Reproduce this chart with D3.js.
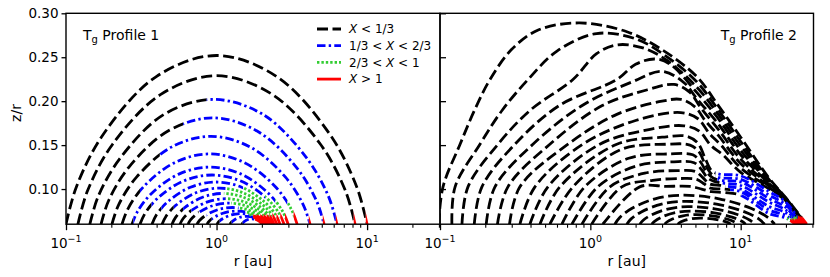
<!DOCTYPE html>
<html>
<head>
<meta charset="utf-8">
<script src="https://cdn.jsdelivr.net/npm/d3@7/dist/d3.min.js"></script>
<style>
  body { margin: 0; background: #fff; }
  svg { display: block; font-family: "DejaVu Sans", sans-serif; }
</style>
</head>
<body>
<svg id="chart" width="830" height="277"></svg>
<script>
// ---- data ----
const xMajorTicks = [0.1, 1, 10];
const xMajorExponents = ["\u22121", "0", "1"];
const xMinorTicks = [0.2, 0.3, 0.4, 0.5, 0.6, 0.7, 0.8, 0.9, 2, 3, 4, 5, 6, 7, 8, 9, 20, 30];
const yTicks = [0.10, 0.15, 0.20, 0.25, 0.30];
const legendLabels = ["X < 1/3", "1/3 < X < 2/3", "2/3 < X < 1", "X > 1"];
const panelTitles = ["Profile 1", "Profile 2"];

// Profile 1: one array of [r, z/r] points per curve
const profile1Curves = [
  [[0.1,0.06],[0.1175,0.103],[0.178,0.163],[0.398,0.228],[1,0.252],[2.51,0.228],[5.62,0.163],[8.51,0.103],[10,0.06]],
  [[0.12,0.06],[0.139,0.098],[0.204,0.151],[0.429,0.208],[1,0.229],[2.33,0.208],[4.9,0.151],[7.18,0.098],[8.32,0.06]],
  [[0.144,0.06],[0.164,0.092],[0.231,0.136],[0.448,0.185],[0.955,0.202],[2.03,0.185],[3.94,0.136],[5.53,0.092],[6.31,0.06]],
  [[0.171,0.06],[0.192,0.087],[0.262,0.125],[0.476,0.166],[0.941,0.181],[1.86,0.166],[3.38,0.125],[4.6,0.087],[5.18,0.06]],
  [[0.202,0.06],[0.224,0.0823],[0.295,0.1138],[0.501,0.1477],[0.918,0.16],[1.68,0.1477],[2.86,0.1138],[3.76,0.0823],[4.18,0.06]],
  [[0.2355,0.06],[0.2585,0.0778],[0.329,0.103],[0.526,0.13],[0.898,0.14],[1.535,0.13],[2.45,0.103],[3.12,0.0778],[3.43,0.06]],
  [[0.2745,0.06],[0.2985,0.0745],[0.37,0.095],[0.562,0.117],[0.906,0.125],[1.459,0.117],[2.215,0.095],[2.75,0.0745],[2.99,0.06]],
  [[0.31,0.06],[0.3355,0.0725],[0.409,0.0901],[0.602,0.1091],[0.934,0.116],[1.45,0.1091],[2.135,0.0901],[2.6,0.0725],[2.81,0.06]],
  [[0.3725,0.06],[0.399,0.0707],[0.476,0.0858],[0.671,0.1021],[0.992,0.108],[1.467,0.1021],[2.068,0.0858],[2.47,0.0707],[2.64,0.06]],
  [[0.4345,0.06],[0.462,0.0691],[0.5415,0.0821],[0.736,0.096],[1.047,0.101],[1.489,0.096],[2.025,0.0821],[2.37,0.0691],[2.52,0.06]],
  [[0.506,0.06],[0.5345,0.0678],[0.615,0.0788],[0.808,0.0907],[1.104,0.095],[1.509,0.0907],[1.98,0.0788],[2.28,0.0678],[2.41,0.06]],
  [[0.5715,0.06],[0.6,0.0665],[0.6815,0.0756],[0.872,0.0854],[1.156,0.089],[1.532,0.0854],[1.961,0.0756],[2.227,0.0665],[2.34,0.06]],
  [[0.647,0.06],[0.676,0.0654],[0.757,0.0729],[0.942,0.081],[1.211,0.084],[1.556,0.081],[1.936,0.0729],[2.168,0.0654],[2.265,0.06]],
  [[0.741,0.06],[0.77,0.0642],[0.849,0.0702],[1.027,0.0767],[1.276,0.079],[1.586,0.0767],[1.919,0.0702],[2.116,0.0642],[2.198,0.06]],
  [[0.865,0.06],[0.893,0.0633],[0.969,0.0681],[1.138,0.0732],[1.365,0.075],[1.637,0.0732],[1.921,0.0681],[2.084,0.0633],[2.153,0.06]],
  [[1.007,0.06],[1.033,0.0627],[1.104,0.0665],[1.255,0.0705],[1.454,0.072],[1.684,0.0705],[1.915,0.0665],[2.046,0.0627],[2.099,0.06]],
  [[1.23,0.06],[1.252,0.062],[1.311,0.0648],[1.434,0.0679],[1.589,0.069],[1.76,0.0679],[1.924,0.0648],[2.015,0.062],[2.051,0.06]],
  [[1.476,0.06],[1.491,0.0613],[1.532,0.0632],[1.617,0.0653],[1.718,0.066],[1.826,0.0653],[1.925,0.0632],[1.978,0.0613],[2.0,0.06]]
];
// r where each curve passes from X<1/3 -> 1/3..2/3 -> 2/3..1 -> X>1
const profile1Breaks = [
  [9.8,9.8,9.8],[8.15,8.15,8.15],[0.86,6.2,6.2],[0.6,5.08,5.08],[0.42,4.1,4.1],[0.31,2.95,3.25],
  [0.28,2.45,2.85],[0.37,2.1,2.65],[0.43,1.5,2.5],[0.52,1.15,2.35],[0.6,1.12,2.25],[0.68,1.15,2.15],
  [0.76,1.25,2.05],[0.86,1.4,1.95],[0.93,1.55,1.85],[1.05,1.65,1.75],[1.26,1.75,1.75],[1.49,1.8,1.8]
];

// Profile 2
const profile2Curves = [
  [[0.098,0.06],[0.1047,0.1025],[0.136,0.151],[0.17,0.19],[0.215,0.2246],[0.3,0.259],[0.45,0.281],[0.85,0.289],[1.75,0.279],[3.0,0.2585],[5.1,0.228],[7.1,0.195],[10,0.159],[15.5,0.112],[20,0.09],[27.5,0.06]],
  [[0.12,0.06],[0.126,0.1025],[0.1845,0.151],[0.26,0.19],[0.385,0.2246],[0.6,0.257],[1.1,0.277],[2.0,0.271],[3.2,0.251],[5.1,0.222],[7.1,0.19],[10,0.154],[15.5,0.1105],[20,0.0895],[27,0.06]],
  [[0.14,0.06],[0.1535,0.1025],[0.243,0.151],[0.4,0.19],[0.766,0.2246],[1.1,0.254],[1.5,0.264],[2.2,0.261],[3.2,0.247],[5.1,0.216],[7.1,0.185],[10,0.149],[15.5,0.109],[20,0.089],[26.8,0.06]],
  [[0.169,0.06],[0.19,0.1025],[0.315,0.151],[0.62,0.195],[1.5,0.2246],[2.0,0.242],[2.7,0.248],[3.4,0.242],[5.1,0.21],[7.1,0.18],[10,0.144],[15.5,0.1075],[20,0.0885],[26.5,0.06]],
  [[0.203,0.06],[0.232,0.1025],[0.415,0.151],[0.9,0.196],[1.9,0.222],[3.0,0.234],[4.2,0.221],[5.1,0.203],[7.1,0.174],[10,0.139],[15.5,0.106],[20,0.088],[26.3,0.06]],
  [[0.241,0.06],[0.283,0.1025],[0.538,0.151],[1.2,0.195],[2.4,0.213],[3.6,0.219],[4.6,0.21],[5.4,0.193],[7.1,0.168],[10,0.134],[15.5,0.1045],[20,0.0875],[26,0.06]],
  [[0.29,0.06],[0.34,0.1025],[0.71,0.151],[1.5,0.185],[3.0,0.2],[4.0,0.202],[5.0,0.193],[5.8,0.178],[7.1,0.161],[10,0.129],[15.5,0.103],[20,0.087],[25.8,0.06]],
  [[0.34,0.06],[0.428,0.1025],[0.891,0.151],[2.0,0.178],[4.0,0.187],[5.2,0.18],[6.2,0.163],[7.4,0.15],[10,0.124],[15.5,0.1015],[20,0.0865],[25.6,0.06]],
  [[0.396,0.06],[0.522,0.1025],[1.156,0.151],[2.5,0.168],[4.2,0.172],[5.3,0.166],[6.3,0.15],[7.6,0.139],[10,0.119],[15.5,0.1],[20,0.086],[25.4,0.06]],
  [[0.462,0.06],[0.627,0.1025],[1.5,0.151],[3.0,0.159],[4.4,0.16],[5.2,0.152],[5.8,0.135],[6.4,0.121],[7.2,0.117],[10,0.115],[15.5,0.097],[20,0.085],[25.6,0.06]],
  [[0.538,0.06],[0.766,0.1025],[1.6,0.145],[3.2,0.151],[4.6,0.15],[5.3,0.142],[5.8,0.128],[6.4,0.117],[7.2,0.113],[10,0.111],[15.5,0.093],[20,0.082],[25.2,0.06]],
  [[0.647,0.06],[0.918,0.1025],[1.8,0.135],[3.4,0.14],[4.8,0.139],[5.4,0.131],[5.9,0.12],[6.5,0.113],[7.3,0.11],[10,0.108],[15.5,0.089],[20,0.079],[24.8,0.06]],
  [[0.754,0.06],[1.12,0.1025],[2.0,0.126],[3.6,0.131],[4.9,0.13],[5.5,0.122],[6.0,0.113],[6.6,0.109],[7.4,0.107],[10,0.104],[15.5,0.085],[20,0.076],[24.4,0.06]],
  [[0.879,0.06],[1.35,0.1025],[2.3,0.118],[3.8,0.121],[5.0,0.12],[5.6,0.113],[6.2,0.106],[7.5,0.104],[10,0.1],[15.5,0.08],[20,0.073],[24,0.06]],
  [[1.02,0.06],[1.62,0.1025],[2.6,0.11],[4.0,0.112],[5.1,0.111],[5.7,0.106],[6.3,0.101],[7.6,0.1],[10,0.097],[15.5,0.076],[20,0.07],[23.5,0.06]],
  [[1.21,0.06],[2.13,0.1025],[3.2,0.103],[4.6,0.103],[5.5,0.1],[6.4,0.097],[7.8,0.096],[10,0.093],[15.5,0.072],[20,0.067],[23,0.06]],
  [[1.455,0.06],[1.564,0.0674],[1.882,0.0778],[2.697,0.0889],[4.069,0.093],[7.18,0.0889],[11.8,0.0778],[15.23,0.0674],[16.83,0.06]],
  [[1.748,0.06],[1.86,0.0658],[2.182,0.074],[2.974,0.0828],[4.241,0.086],[6.918,0.0828],[10.62,0.074],[13.24,0.0658],[14.42,0.06]],
  [[2.133,0.06],[2.247,0.0645],[2.567,0.0708],[3.323,0.0775],[4.466,0.08],[6.716,0.0775],[9.598,0.0708],[11.53,0.0645],[12.39,0.06]],
  [[2.563,0.06],[2.673,0.0633],[2.981,0.0681],[3.68,0.0732],[4.687,0.075],[6.542,0.0732],[8.76,0.0681],[10.18,0.0633],[10.79,0.06]],
  [[3.126,0.06],[3.231,0.0625],[3.515,0.0659],[4.142,0.0696],[4.996,0.071],[6.474,0.0696],[8.124,0.0659],[9.126,0.0625],[9.55,0.06]],
  [[3.815,0.06],[3.907,0.0616],[4.154,0.0638],[4.68,0.0661],[5.362,0.067],[6.471,0.0661],[7.63,0.0638],[8.305,0.0616],[8.583,0.06]]
];
const profile2Breaks = [
  [25.8,25.8,25.8],[25.4,25.4,25.4],[25.2,25.2,25.2],[25,25,25],[24.8,24.8,24.8],[24.6,24.6,24.6],
  [24.4,24.4,24.4],[24.2,24.2,24.2],[24,24,24],
  [6.8,24,24.6],[6.8,23.5,24.2],[7.0,23,23.8],[7.4,22.5,23.3],[7.9,21.8,22.8],[8.5,21,22],[10,20.3,21.3],
  [1000,1000,1000],[1000,1000,1000],[1000,1000,1000],[1000,1000,1000],[1000,1000,1000],[1000,1000,1000]
];

// ---- layout & styles ----
const W = 830, H = 277;
const plotTop = 13.3, plotBottom = 224.2;
const lineWidth = 2.8;
const catStyles = [
  { color: "#000000", dash: "11,4.5" },
  { color: "#0000ff", dash: "8.5,3.2,2.4,3.2" },
  { color: "#32cd32", dash: "2.4,2" },
  { color: "#ff0000", dash: null }
];
const panels = [
  { x0: 66, x1: 440, curves: profile1Curves, breaks: profile1Breaks, titleX: 83, anchor: "start" },
  { x0: 440, x1: 813.5, curves: profile2Curves, breaks: profile2Breaks, titleX: 797, anchor: "end" }
];

const svg = d3.select("#chart");
svg.append("rect").attr("width", W).attr("height", H).attr("fill", "#fff");
const defs = svg.append("defs");

const y = d3.scaleLinear().domain([0.06, 0.30]).range([plotBottom, plotTop]);

panels.forEach((p, i) => {
    const x = d3.scaleLog().domain([0.1, 30.5]).range([p.x0, p.x1]);
    const clipId = "panel-clip-" + i;
    defs.append("clipPath").attr("id", clipId)
        .append("rect")
        .attr("x", p.x0).attr("y", plotTop)
        .attr("width", p.x1 - p.x0).attr("height", plotBottom - plotTop);

    const g = svg.append("g").attr("clip-path", `url(#${clipId})`);
    const line = d3.line()
        .x(d => x(d[0]))
        .y(d => y(d[1]))
        .curve(d3.curveCatmullRom.alpha(0.5));

    // draw by category so red sits on top, like the original
    catStyles.forEach((st, c) => {
        p.curves.forEach((pts, k) => {
            const br = p.breaks[k];
            const lo = c === 0 ? 0.01 : br[c - 1];
            const hi = c === 3 ? 1000 : br[c];
            if (hi <= lo) return;
            const sx0 = Math.max(p.x0 - 5, x(lo));
            const sx1 = Math.min(p.x1 + 5, x(hi));
            if (sx1 <= sx0) return;
            const segId = `seg-${i}-${k}-${c}`;
            defs.append("clipPath").attr("id", segId)
                .append("rect")
                .attr("x", sx0).attr("y", 0)
                .attr("width", sx1 - sx0).attr("height", H);
            g.append("path")
                .attr("d", line(pts))
                .attr("clip-path", `url(#${segId})`)
                .attr("fill", "none")
                .attr("stroke", st.color)
                .attr("stroke-width", lineWidth)
                .attr("stroke-dasharray", st.dash)
                .attr("stroke-linecap", "butt");
        });
    });

    // x axis: minor then major ticks
    svg.append("g")
        .attr("transform", `translate(0,${plotBottom})`)
        .call(d3.axisBottom(x).tickValues(xMinorTicks).tickSize(3.5).tickFormat(""))
        .call(a => a.select(".domain").remove())
        .call(a => a.selectAll("line").attr("stroke-width", 1.1));
    svg.append("g")
        .attr("transform", `translate(0,${plotBottom})`)
        .call(d3.axisBottom(x).tickValues(xMajorTicks).tickSize(6).tickFormat(""))
        .call(a => a.select(".domain").remove())
        .call(a => a.selectAll("line").attr("stroke-width", 1.3));

    xMajorTicks.forEach((v, j) => {
        const t = svg.append("text")
            .attr("x", x(v)).attr("y", 248)
            .attr("text-anchor", "middle")
            .attr("font-size", "13.5px")
            .attr("fill", "#000");
        t.append("tspan").text("10");
        t.append("tspan").attr("dy", -6.5).attr("font-size", "9.5px").text(xMajorExponents[j]);
    });

    svg.append("text")
        .attr("x", (p.x0 + p.x1) / 2).attr("y", 265.5)
        .attr("text-anchor", "middle")
        .attr("font-size", "14px")
        .text("r [au]");

    // y ticks
    if (i === 0) {
        svg.append("g")
            .attr("transform", `translate(${p.x0},0)`)
            .call(d3.axisLeft(y).tickValues(yTicks).tickSize(4.5).tickPadding(3).tickFormat(d3.format(".2f")))
            .call(a => a.select(".domain").remove())
            .call(a => a.selectAll("line").attr("stroke-width", 1.3))
            .call(a => a.selectAll("text").attr("font-size", "13.5px").attr("font-family", "DejaVu Sans"));
    } else {
        svg.append("g")
            .attr("transform", `translate(${p.x0},0)`)
            .call(d3.axisRight(y).tickValues(yTicks).tickSize(6).tickFormat(""))
            .call(a => a.select(".domain").remove())
            .call(a => a.selectAll("line").attr("stroke-width", 1.3));
    }

    // frame
    svg.append("rect")
        .attr("x", p.x0).attr("y", plotTop)
        .attr("width", p.x1 - p.x0).attr("height", plotBottom - plotTop)
        .attr("fill", "none").attr("stroke", "#000").attr("stroke-width", 1.4);

    // panel title  T_g Profile n
    const title = svg.append("text")
        .attr("x", p.titleX).attr("y", 39.5)
        .attr("text-anchor", p.anchor)
        .attr("font-size", "14px");
    title.append("tspan").text("T");
    title.append("tspan").attr("dy", 3.5).attr("font-size", "10px").text("g");
    title.append("tspan").attr("dy", -3.5).text(" " + panelTitles[i]);
});

// y label
svg.append("text")
    .attr("transform", "translate(20.5,113) rotate(-90)")
    .attr("text-anchor", "middle")
    .attr("font-size", "14px")
    .text("z/r");

// legend
const legend = svg.append("g");
legendLabels.forEach((lab, i) => {
    const cy = 29 + i * 16.7;
    const st = catStyles[i];
    legend.append("line")
        .attr("x1", 317).attr("x2", 341)
        .attr("y1", cy).attr("y2", cy)
        .attr("stroke", st.color)
        .attr("stroke-width", lineWidth)
        .attr("stroke-dasharray", st.dash);
    const t = legend.append("text")
        .attr("x", 349).attr("y", cy + 4.3)
        .attr("font-size", "12px");
    lab.split("X").forEach((part, j) => {
        if (j > 0) t.append("tspan").attr("font-style", "italic").text("X");
        if (part) t.append("tspan").text(part);
    });
});
</script>
</body>
</html>
